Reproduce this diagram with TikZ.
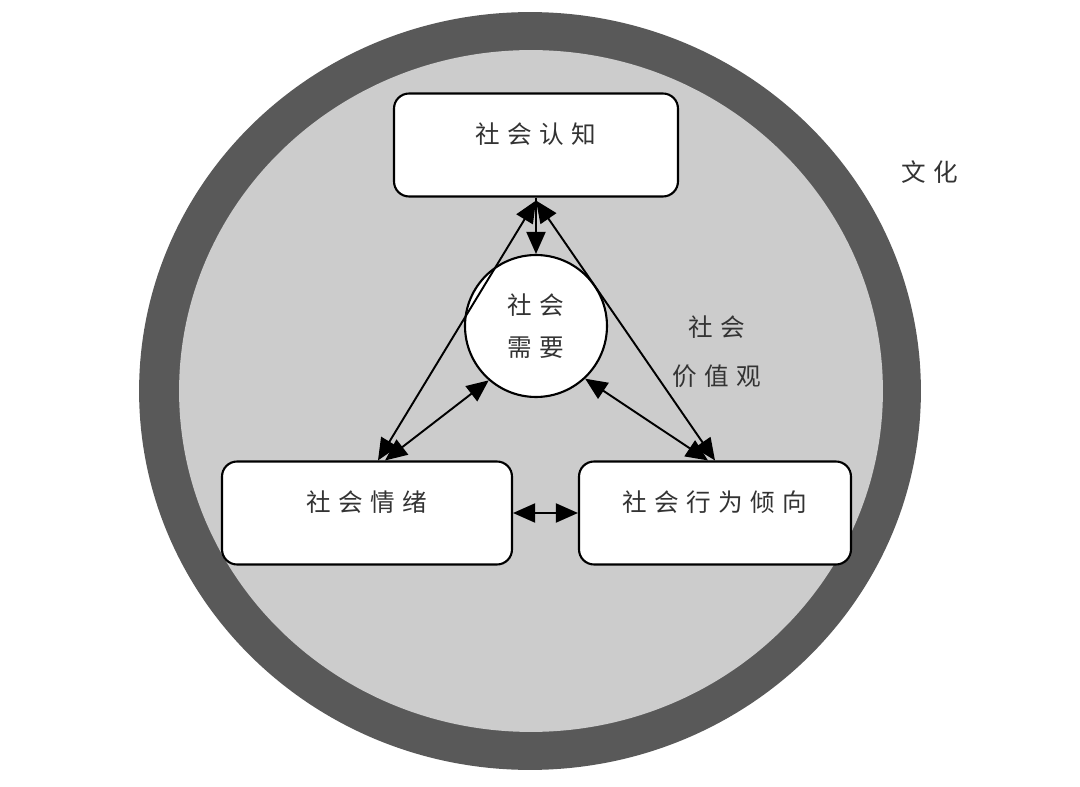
\documentclass[tikz,border=0pt]{standalone}
\usepackage{fontspec}
\newfontfamily\cjk[LetterSpace=30]{Noto Sans CJK SC}
\usetikzlibrary{arrows.meta}

\begin{document}
\begin{tikzpicture}[
    x=0.02cm, y=-0.02cm,
    font=\cjk\fontsize{14}{24}\selectfont,
    panel/.style={draw, line width=1.2pt, rounded corners=0.3cm, fill=white, inner sep=0pt,
        minimum height=2.06cm, text height=1.0cm, text depth=1.06cm, text=black!80},
    hub/.style={draw, circle, line width=1.2pt, fill=white, inner sep=0pt, minimum size=2.84cm,
        align=center, text=black!80},
    tag/.style={align=center, text=black!80},
    link/.style={{Triangle[length=4.4mm,width=3.8mm]}-{Triangle[length=4.4mm,width=3.8mm]}, line width=1.1pt},
    onelink/.style={-{Triangle[length=4.4mm,width=3.8mm]}, line width=1.1pt}]
\useasboundingbox (0,0) rectangle (1080,787);
% culture ring
\fill[black!65] (530,391) ellipse [x radius=7.82cm, y radius=7.58cm];
\fill[black!20] (531,391) ellipse [x radius=7.04cm, y radius=6.82cm];
\node[panel, minimum width=5.68cm] (cognition) at (536,145) {社会认知};
\node[panel, minimum width=5.8cm] (emotion) at (367,513) {社会情绪};
\node[panel, minimum width=5.44cm] (behavior) at (715,513) {社会行为倾向};
\node[hub] (needs) at (536,326) {社会\\需要};
\node[tag, font=\cjk\fontsize{14}{28}\selectfont] (values) at (717,352) {社会\\价值观};
\node[tag] (culture) at (930,172) {文化};
\coordinate (apex) at ([yshift=-0.06cm]cognition.south);
\draw[link] (apex) -- ([xshift=0.22cm]emotion.north);
\draw[link] (apex) -- (behavior.north);
\draw[onelink] (cognition.south) -- (needs.north);
\draw[link] (needs.229) -- ([xshift=0.36cm]emotion.north);
\draw[link] (needs.313) -- ([xshift=-0.14cm]behavior.north);
\draw[link] (emotion) -- (behavior);
\end{tikzpicture}
\end{document}
